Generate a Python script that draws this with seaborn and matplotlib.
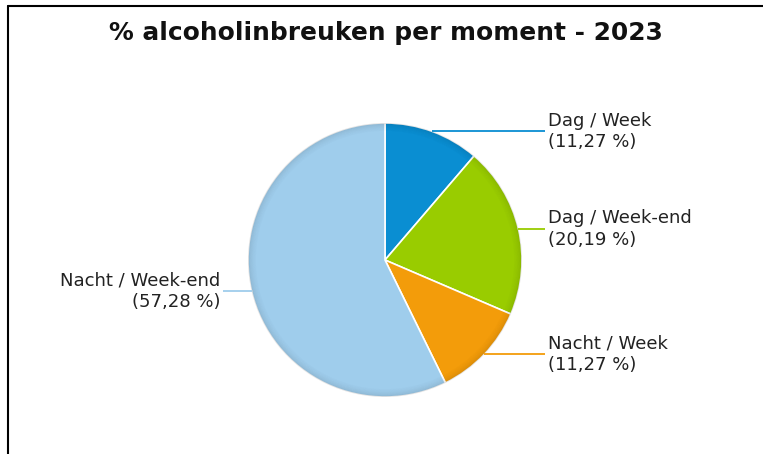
import numpy as np
import matplotlib
matplotlib.use('Agg')
import matplotlib.pyplot as plt
from matplotlib.lines import Line2D
import seaborn as sns

# ── Data ───────────────────────────────────────────────────────────────────
categories = ['Dag / Week', 'Dag / Week-end', 'Nacht / Week', 'Nacht / Week-end']
shares     = [11.27, 20.19, 11.27, 57.28]
labels_pct = ['11,27 %', '20,19 %', '11,27 %', '57,28 %']
colors     = ['#0a8ed2', '#99cc00', '#f39c0a', '#9fcdec']

TITLE = '% alcoholinbreuken per moment - 2023'

W, H = 763, 454
CX, CY, R = 385, H - 260, 137   # pie centre / radius in pixel coords (y up)

sns.set_theme(style='white')
plt.rcParams['font.family'] = ['DejaVu Sans']

fig = plt.figure(figsize=(W / 100, H / 100), dpi=100)
ax = fig.add_axes([0, 0, 1, 1])

wedges, _ = ax.pie(shares, colors=colors, startangle=90, counterclock=False,
                   center=(CX, CY), radius=R,
                   wedgeprops=dict(edgecolor='white', linewidth=1.2))

# soft darker rim, like the original's shading (darkest at the outer edge)
rim_alpha = [0.11, 0.085, 0.065, 0.05, 0.038, 0.027, 0.018, 0.01]
for k, a in enumerate(rim_alpha):
    ax.pie(shares, colors=['black'] * len(shares), startangle=90, counterclock=False,
           center=(CX, CY), radius=R - k,
           wedgeprops=dict(width=1, alpha=a, linewidth=0))

ax.set_xlim(0, W)
ax.set_ylim(0, H)
ax.set_aspect('equal')
ax.axis('off')

# ── Labels with horizontal leader lines ───────────────────────────────────
for w, cat, pct, col in zip(wedges, categories, labels_pct, colors):
    mid = np.deg2rad((w.theta1 + w.theta2) / 2)
    x0 = CX + R * np.cos(mid)
    y0 = CY + R * np.sin(mid)
    if np.cos(mid) >= 0:
        x1, tx, ha = 545, 548, 'left'
    else:
        x1, tx, ha = 223, 220, 'right'
    ax.plot([x0, x1], [y0, y0], color=col, lw=1.3, solid_capstyle='butt')
    ax.text(tx, y0, f'{cat}\n({pct})', ha=ha, va='center', fontsize=13,
            color='#222222', linespacing=1.25, multialignment=ha)

ax.text(386, H - 33, TITLE, ha='center', va='center', fontsize=17.9,
        fontweight='bold', color='#111111')

# frame lines (left + top)
fig.add_artist(Line2D([8 / W, 8 / W], [0, 1 - 6 / H], color='black', lw=1.5,
                      transform=fig.transFigure))
fig.add_artist(Line2D([8 / W, 1], [1 - 6 / H, 1 - 6 / H], color='black', lw=1.5,
                      transform=fig.transFigure))

fig.savefig('out.png', dpi=100)
